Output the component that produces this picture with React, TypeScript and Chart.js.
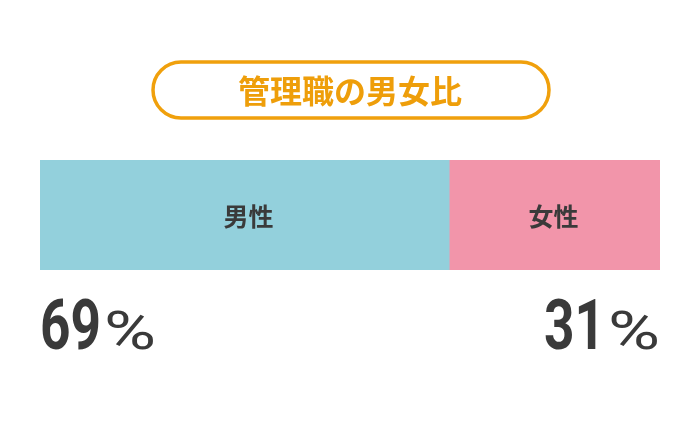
import React, { useEffect, useRef } from 'react';
import Chart from 'chart.js/auto';

const categories = ['管理職'];
const seriesNames = ['男性', '女性'];
// segment widths as drawn in the picture
const barValues = [66, 34];
const percentLabels = ['69', '31'];
const seriesColors = ['#93D0DC', '#F295AA'];
const chartTitle = '管理職の男女比';

const JP_FONT = '"Noto Sans CJK JP", "Noto Sans", sans-serif';
const NUM_FONT = 'Roboto, "DejaVu Sans", sans-serif';

const overlayPlugin = {
  id: 'overlay',
  afterDraw(chart: any) {
    const ctx = chart.ctx as CanvasRenderingContext2D;
    const area = chart.chartArea;
    ctx.save();

    // title pill
    const px = 153, py = 62, pw = 396, ph = 56, r = ph / 2;
    ctx.beginPath();
    ctx.moveTo(px + r, py);
    ctx.lineTo(px + pw - r, py);
    ctx.arc(px + pw - r, py + r, r, -Math.PI / 2, Math.PI / 2);
    ctx.lineTo(px + r, py + ph);
    ctx.arc(px + r, py + r, r, Math.PI / 2, Math.PI * 1.5);
    ctx.closePath();
    ctx.lineWidth = 3.5;
    ctx.strokeStyle = '#F0A00C';
    ctx.stroke();

    ctx.fillStyle = '#EE9E0A';
    ctx.font = `bold 32px ${JP_FONT}`;
    ctx.textAlign = 'center';
    ctx.textBaseline = 'middle';
    ctx.fillText(chartTitle, px + pw / 2 - 1, py + ph / 2 + 1);

    // segment labels
    ctx.fillStyle = '#3a3a3a';
    ctx.font = `bold 25px ${JP_FONT}`;
    chart.data.datasets.forEach((ds: any, i: number) => {
      const bar = chart.getDatasetMeta(i).data[0];
      if (!bar) return;
      const cx = (bar.x + bar.base) / 2 + (i === 0 ? 4 : -1);
      ctx.fillText(ds.label, cx, bar.y + 1);
    });

    // percentages (narrow digits, wide thin percent sign)
    ctx.textBaseline = 'alphabetic';
    ctx.textAlign = 'left';
    const baseY = 349;
    const digitScale = 0.76;
    const pctWidth = 52;
    const drawPct = (txt: string, x: number, alignRight: boolean) => {
      ctx.font = `bold 70px ${NUM_FONT}`;
      const wd = ctx.measureText(txt).width * digitScale;
      ctx.font = `normal 62px ${NUM_FONT}`;
      const wpRaw = ctx.measureText('%').width;
      const gap = 3;
      const total = wd + gap + pctWidth;
      const sx = alignRight ? x - total : x;

      ctx.save();
      ctx.translate(sx, baseY);
      ctx.scale(digitScale, 1);
      ctx.font = `bold 70px ${NUM_FONT}`;
      ctx.fillText(txt, 0, 0);
      ctx.restore();

      ctx.save();
      ctx.translate(sx + wd + gap, baseY);
      ctx.scale(pctWidth / wpRaw, 0.86);
      ctx.font = `normal 62px ${NUM_FONT}`;
      ctx.fillText('%', 0, 0);
      ctx.restore();
    };
    drawPct(percentLabels[0], area.left, false);
    drawPct(percentLabels[1], area.right, true);

    ctx.restore();
  },
};

const App: React.FC = () => {
  const canvasRef = useRef<HTMLCanvasElement | null>(null);

  useEffect(() => {
    if (!canvasRef.current) return;
    const chart = new Chart(canvasRef.current, {
      type: 'bar',
      data: {
        labels: categories,
        datasets: seriesNames.map((name, i) => ({
          label: name,
          data: [barValues[i]],
          backgroundColor: seriesColors[i],
          borderWidth: 0,
          barPercentage: 1,
          categoryPercentage: 1,
        })),
      },
      options: {
        indexAxis: 'y',
        responsive: false,
        animation: false,
        layout: { padding: { left: 40, right: 40, top: 160, bottom: 152 } },
        scales: {
          x: { stacked: true, min: 0, max: 100, display: false },
          y: { stacked: true, display: false },
        },
        plugins: {
          legend: { display: false },
          tooltip: { enabled: false },
          title: { display: false },
        },
      },
      plugins: [overlayPlugin],
    });
    return () => chart.destroy();
  }, []);

  return (
    <div style={{ position: 'fixed', left: 0, top: 0, width: 700, height: 422, background: '#fff' }}>
      <canvas ref={canvasRef} width={700} height={422} />
    </div>
  );
};

export default App;
